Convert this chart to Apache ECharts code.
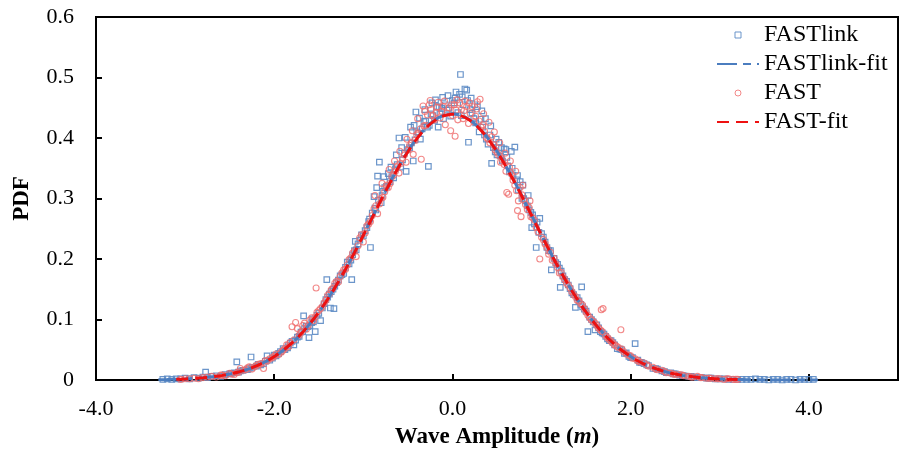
<!DOCTYPE html>
<html>
<head>
<meta charset="utf-8">
<script src="https://cdn.jsdelivr.net/npm/echarts@6/dist/echarts.min.js"></script>
<style>
  html, body { margin: 0; padding: 0; background: #ffffff; }
  #chart { width: 903px; height: 458px; }
</style>
</head>
<body>
<div id="chart"></div>
<script>
// Axis ticks
const xTickValues = [-4, -2, 0, 2, 4];
const yTickValues = [0, 0.1, 0.2, 0.3, 0.4, 0.5, 0.6];

// FASTlink: wave amplitude histogram PDF [amplitude (m), PDF]
const fastlinkPoints = [
  [-3.25,0.001],[-3.20,0.002],[-3.15,0.001],[-3.10,0.002],[-3.05,0.002],[-3.00,0.003],[-2.95,0.002],[-2.90,0.004],
  [-2.85,0.003],[-2.80,0.005],[-2.77,0.013],[-2.75,0.004],[-2.70,0.006],[-2.65,0.007],[-2.60,0.006],[-2.55,0.009],
  [-2.50,0.010],[-2.45,0.012],[-2.42,0.030],[-2.40,0.013],[-2.35,0.016],[-2.30,0.017],[-2.26,0.038],[-2.25,0.021],
  [-2.20,0.023],[-2.15,0.025],[-2.10,0.031],[-2.08,0.040],[-2.05,0.033],[-2.00,0.041],[-1.95,0.044],[-1.90,0.052],
  [-1.85,0.053],[-1.82,0.061],[-1.78,0.058],[-1.74,0.071],[-1.70,0.079],[-1.67,0.106],[-1.66,0.085],[-1.62,0.088],
  [-1.61,0.070],[-1.58,0.095],[-1.56,0.096],[-1.54,0.080],[-1.52,0.107],[-1.48,0.098],[-1.46,0.119],[-1.42,0.133],
  [-1.41,0.166],[-1.38,0.142],[-1.37,0.119],[-1.34,0.150],[-1.33,0.118],[-1.30,0.161],[-1.26,0.172],[-1.22,0.176],
  [-1.18,0.195],[-1.14,0.198],[-1.13,0.166],[-1.10,0.214],[-1.09,0.229],[-1.06,0.225],[-1.02,0.240],[-0.98,0.247],
  [-0.94,0.262],[-0.92,0.219],[-0.90,0.276],[-0.88,0.303],[-0.86,0.281],[-0.84,0.337],[-0.82,0.360],[-0.80,0.293],
  [-0.78,0.312],[-0.74,0.320],[-0.72,0.341],[-0.70,0.328],[-0.66,0.334],[-0.62,0.356],[-0.60,0.400],[-0.58,0.352],
  [-0.54,0.375],[-0.52,0.345],[-0.50,0.381],[-0.46,0.392],[-0.44,0.362],[-0.42,0.397],[-0.41,0.443],[-0.38,0.408],
  [-0.34,0.415],[-0.30,0.428],[-0.27,0.353],[-0.26,0.421],[-0.24,0.440],[-0.22,0.437],[-0.18,0.452],[-0.16,0.418],
  [-0.14,0.440],[-0.12,0.449],[-0.10,0.432],[-0.08,0.455],[-0.06,0.446],[-0.02,0.436],[0.02,0.458],[0.04,0.476],
  [0.06,0.442],[0.08,0.472],[0.09,0.505],[0.10,0.437],[0.14,0.481],[0.16,0.479],[0.18,0.393],[0.20,0.447],
  [0.22,0.441],[0.26,0.425],[0.28,0.452],[0.30,0.410],[0.34,0.418],[0.38,0.398],[0.42,0.405],[0.44,0.358],
  [0.46,0.384],[0.50,0.372],[0.52,0.393],[0.54,0.370],[0.58,0.382],[0.60,0.381],[0.62,0.354],[0.66,0.378],
  [0.70,0.385],[0.74,0.314],[0.76,0.328],[0.78,0.300],[0.82,0.296],[0.86,0.281],[0.89,0.252],[0.90,0.273],
  [0.94,0.219],[0.95,0.261],[0.98,0.267],[1.02,0.236],[1.06,0.219],[1.10,0.214],[1.11,0.182],[1.14,0.201],
  [1.18,0.191],[1.21,0.153],[1.22,0.180],[1.26,0.166],[1.30,0.157],[1.34,0.144],[1.38,0.120],[1.42,0.131],
  [1.45,0.154],[1.46,0.121],[1.50,0.114],[1.52,0.080],[1.54,0.104],[1.58,0.096],[1.60,0.083],[1.62,0.091],
  [1.66,0.080],[1.70,0.076],[1.74,0.068],[1.78,0.065],[1.82,0.058],[1.85,0.052],[1.90,0.050],[1.95,0.045],
  [2.00,0.037],[2.05,0.060],[2.08,0.033],[2.10,0.029],[2.15,0.027],[2.20,0.024],[2.25,0.019],[2.30,0.018],
  [2.35,0.015],[2.40,0.012],[2.45,0.012],[2.50,0.010],[2.55,0.008],[2.60,0.007],[2.65,0.006],[2.70,0.005],
  [2.75,0.004],[2.80,0.004],[2.85,0.003],[2.90,0.003],[2.95,0.002],[3.00,0.002],[3.05,0.002],[3.10,0.001],
  [3.15,0.001],[3.20,0.001],[3.25,0.001],[3.30,0.001],[3.35,0.001],[3.40,0.002],[3.45,0.001],[3.50,0.001],
  [3.55,0.000],[3.60,0.001],[3.65,0.001],[3.70,0.000],[3.75,0.001],[3.80,0.001],[3.85,0.000],[3.90,0.001],
  [3.95,0.001],[4.00,0.001],[4.05,0.001],
  [-2.48,0.011],[-2.38,0.015],[-2.28,0.019],[-2.18,0.026],[-2.12,0.027],[-2.02,0.036],[-1.98,0.040],[-1.93,0.047],
  [-1.88,0.050],[-1.84,0.057],[-1.80,0.064],[-1.76,0.066],[-1.72,0.072],[-1.68,0.080],[-1.64,0.089],[-1.60,0.090],
  [-1.57,0.101],[-1.50,0.110],[-1.44,0.126],[-1.40,0.137],[-1.36,0.146],[-1.32,0.155],[-1.28,0.165],[-1.24,0.174],
  [-1.20,0.186],[-1.16,0.192],[-1.12,0.207],[-1.08,0.215],[-1.04,0.231],[-1.00,0.238],[-0.96,0.252],[-0.93,0.266],
  [-0.87,0.284],[-0.83,0.297],[-0.79,0.305],[-0.76,0.318],[-0.68,0.338],[-0.64,0.349],[-0.56,0.364],[-0.48,0.384],
  [-0.40,0.410],[-0.36,0.398],[-0.32,0.427],[-0.28,0.418],[-0.20,0.429],[-0.15,0.451],[-0.04,0.449],[0.00,0.462],
  [0.12,0.455],[0.24,0.432],[0.32,0.431],[0.36,0.405],[0.40,0.390],[0.48,0.377],[0.56,0.362],[0.64,0.344],
  [0.68,0.338],[0.72,0.331],[0.80,0.300],[0.84,0.288],[0.88,0.277],[0.92,0.258],[0.97,0.244],[1.00,0.242],
  [1.04,0.228],[1.08,0.214],[1.16,0.194],[1.20,0.185],[1.24,0.172],[1.28,0.163],[1.32,0.151],[1.36,0.141],
  [1.40,0.136],[1.44,0.125],[1.48,0.117],[1.56,0.100],[1.64,0.086],[1.68,0.078],[1.72,0.072],[1.76,0.065],
  [1.80,0.062],[1.88,0.051],[1.93,0.044],[1.98,0.039],[2.02,0.037],[2.12,0.029],[2.18,0.025],[2.28,0.019],
  [2.38,0.014],[2.48,0.010],[2.58,0.007],[2.68,0.006],[2.78,0.004],[2.88,0.003],
  [-0.85,0.318],[-0.77,0.336],[-0.69,0.352],[-0.63,0.372],[-0.57,0.384],[-0.53,0.401],[-0.47,0.418],[-0.43,0.421],
  [-0.37,0.433],[-0.31,0.447],[-0.23,0.458],[-0.19,0.463],[-0.11,0.467],[-0.05,0.470],[0.03,0.466],[0.11,0.468],
  [0.17,0.462],[0.21,0.466],[0.25,0.455],[0.33,0.445],[0.37,0.432],[0.43,0.420],[0.49,0.398],[0.55,0.384],
  [0.61,0.368],[0.67,0.350],[0.73,0.338],[0.79,0.322],[0.85,0.305]
];

// FAST: wave amplitude histogram PDF [amplitude (m), PDF]
const fastPoints = [
  [-3.05,0.001],[-3.00,0.002],[-2.95,0.002],[-2.90,0.003],[-2.85,0.002],[-2.80,0.004],[-2.75,0.005],[-2.70,0.006],
  [-2.65,0.005],[-2.60,0.008],[-2.55,0.007],[-2.50,0.011],[-2.45,0.009],[-2.40,0.013],[-2.38,0.019],[-2.35,0.016],
  [-2.30,0.020],[-2.25,0.018],[-2.20,0.024],[-2.15,0.027],[-2.12,0.019],[-2.10,0.032],[-2.05,0.035],[-2.00,0.039],
  [-1.95,0.042],[-1.90,0.049],[-1.86,0.058],[-1.84,0.055],[-1.80,0.088],[-1.78,0.066],[-1.76,0.095],[-1.72,0.074],
  [-1.68,0.090],[-1.64,0.084],[-1.60,0.099],[-1.56,0.098],[-1.53,0.152],[-1.52,0.112],[-1.48,0.118],[-1.44,0.127],
  [-1.40,0.140],[-1.36,0.149],[-1.32,0.160],[-1.28,0.162],[-1.24,0.177],[-1.20,0.183],[-1.16,0.199],[-1.12,0.210],
  [-1.08,0.204],[-1.04,0.235],[-1.00,0.228],[-0.96,0.255],[-0.92,0.262],[-0.88,0.283],[-0.84,0.275],[-0.80,0.300],
  [-0.76,0.311],[-0.72,0.318],[-0.68,0.336],[-0.64,0.345],[-0.60,0.342],[-0.56,0.366],[-0.52,0.360],[-0.48,0.388],
  [-0.44,0.373],[-0.40,0.405],[-0.36,0.415],[-0.35,0.365],[-0.33,0.453],[-0.32,0.420],[-0.28,0.438],[-0.24,0.447],
  [-0.20,0.430],[-0.16,0.459],[-0.12,0.444],[-0.08,0.422],[-0.04,0.450],[0.00,0.437],[0.03,0.403],[0.04,0.446],
  [0.08,0.458],[0.12,0.432],[0.16,0.452],[0.20,0.440],[0.24,0.427],[0.28,0.460],[0.31,0.464],[0.32,0.418],
  [0.36,0.411],[0.40,0.398],[0.44,0.402],[0.48,0.380],[0.52,0.371],[0.56,0.364],[0.60,0.345],[0.61,0.310],
  [0.63,0.307],[0.64,0.352],[0.68,0.330],[0.72,0.313],[0.73,0.280],[0.74,0.296],[0.76,0.318],[0.77,0.270],
  [0.80,0.298],[0.84,0.282],[0.88,0.270],[0.92,0.264],[0.96,0.245],[0.98,0.200],[1.00,0.236],[1.04,0.225],
  [1.08,0.208],[1.12,0.198],[1.16,0.192],[1.20,0.177],[1.24,0.171],[1.28,0.160],[1.32,0.152],[1.36,0.141],
  [1.40,0.132],[1.44,0.126],[1.48,0.118],[1.52,0.107],[1.56,0.099],[1.60,0.094],[1.64,0.086],[1.67,0.116],
  [1.68,0.080],[1.69,0.118],[1.72,0.073],[1.76,0.067],[1.80,0.061],[1.84,0.056],[1.89,0.083],[1.90,0.051],
  [1.95,0.043],[2.00,0.040],[2.05,0.035],[2.10,0.030],[2.15,0.028],[2.20,0.023],[2.25,0.021],[2.30,0.017],
  [2.35,0.016],[2.40,0.012],[2.45,0.011],[2.50,0.009],[2.55,0.009],[2.60,0.007],[2.65,0.006],[2.70,0.005],
  [2.75,0.006],[2.80,0.004],[2.85,0.003],[2.90,0.003],[2.95,0.002],[3.00,0.002],[3.05,0.001],[3.10,0.002],
  [3.15,0.001],[3.20,0.001],
  [-2.58,0.008],[-2.48,0.010],[-2.42,0.012],[-2.32,0.017],[-2.28,0.022],[-2.22,0.022],[-2.18,0.026],[-2.08,0.031],
  [-2.02,0.037],[-1.98,0.043],[-1.92,0.046],[-1.88,0.052],[-1.82,0.062],[-1.74,0.085],[-1.70,0.079],[-1.66,0.094],
  [-1.62,0.090],[-1.58,0.103],[-1.54,0.104],[-1.50,0.115],[-1.46,0.121],[-1.42,0.132],[-1.38,0.143],[-1.34,0.152],
  [-1.30,0.163],[-1.26,0.171],[-1.22,0.182],[-1.18,0.190],[-1.14,0.202],[-1.10,0.213],[-1.06,0.222],[-1.02,0.240],
  [-0.98,0.243],[-0.94,0.258],[-0.90,0.272],[-0.86,0.288],[-0.82,0.291],[-0.78,0.302],[-0.74,0.322],[-0.70,0.325],
  [-0.66,0.339],[-0.62,0.352],[-0.58,0.358],[-0.54,0.372],[-0.50,0.380],[-0.46,0.392],[-0.42,0.396],[-0.38,0.408],
  [-0.30,0.421],[-0.26,0.455],[-0.22,0.437],[-0.18,0.442],[-0.14,0.433],[-0.10,0.452],[-0.06,0.441],[-0.02,0.412],
  [0.02,0.455],[0.06,0.430],[0.10,0.447],[0.14,0.461],[0.18,0.424],[0.22,0.452],[0.26,0.436],[0.30,0.428],
  [0.34,0.422],[0.38,0.401],[0.42,0.392],[0.46,0.389],[0.50,0.376],[0.54,0.360],[0.58,0.356],[0.66,0.341],
  [0.70,0.322],[0.78,0.306],[0.82,0.290],[0.86,0.285],[0.90,0.268],[0.94,0.252],[1.02,0.232],[1.06,0.219],
  [1.10,0.211],[1.14,0.201],[1.18,0.186],[1.22,0.178],[1.26,0.166],[1.30,0.157],[1.34,0.146],[1.38,0.138],
  [1.42,0.130],[1.46,0.124],[1.50,0.112],[1.54,0.103],[1.58,0.097],[1.62,0.090],[1.66,0.083],[1.74,0.070],
  [1.78,0.064],[1.82,0.058],[1.86,0.054],[1.92,0.047],[1.98,0.041],[2.02,0.036],[2.08,0.032],[2.18,0.025],
  [2.28,0.018],[2.38,0.014],[2.48,0.010],[2.58,0.008],[2.68,0.005],[2.78,0.004],[2.88,0.003],[2.98,0.002],
  [3.08,0.002],[3.18,0.001],
  [-0.87,0.305],[-0.79,0.325],[-0.71,0.348],[-0.65,0.362],[-0.59,0.378],[-0.51,0.398],[-0.45,0.412],[-0.39,0.432],
  [-0.31,0.444],[-0.25,0.462],[-0.17,0.451],[-0.09,0.461],[-0.01,0.455],[0.05,0.463],[0.13,0.445],[0.19,0.458],
  [0.27,0.448],[0.35,0.440],[0.41,0.426],[0.47,0.410],[0.53,0.392],[0.59,0.375],[0.65,0.362],[0.71,0.345],
  [0.79,0.322],[0.87,0.296]
];

// Fitted normal curves, sampled every 0.1 m
const fastlinkFitX = [
  -3.3,-3.2,-3.1,-3.0,-2.9,-2.8,-2.7,-2.6,-2.5,-2.4,-2.3,-2.2,-2.1,-2.0,-1.9,-1.8,-1.7,-1.6,-1.5,-1.4,
  -1.3,-1.2,-1.1,-1.0,-0.9,-0.8,-0.7,-0.6,-0.5,-0.4,-0.3,-0.2,-0.1,0.0,0.1,0.2,0.3,0.4,0.5,0.6,
  0.7,0.8,0.9,1.0,1.1,1.2,1.3,1.4,1.5,1.6,1.7,1.8,1.9,2.0,2.1,2.2,2.3,2.4,2.5,2.6,
  2.7,2.8,2.9,3.0,3.1,3.2,3.3,3.4,3.5,3.6,3.7,3.8,3.9,4.0,4.1
];
const fastlinkFitY = [
  0.0006,0.0009,0.0013,0.0018,0.0026,0.0037,0.0052,0.0072,0.0098,0.0133,0.0176,0.0232,0.0301,0.0387,0.0490,0.0614,0.0759,0.0928,0.1121,0.1337,
  0.1575,0.1833,0.2108,0.2396,0.2689,0.2982,0.3267,0.3535,0.3780,0.3992,0.4166,0.4294,0.4373,0.4400,0.4373,0.4294,0.4166,0.3992,0.3780,0.3535,
  0.3267,0.2982,0.2689,0.2396,0.2108,0.1833,0.1575,0.1337,0.1121,0.0928,0.0759,0.0614,0.0490,0.0387,0.0301,0.0232,0.0176,0.0133,0.0098,0.0072,
  0.0052,0.0037,0.0026,0.0018,0.0013,0.0009,0.0006,0.0004,0.0002,0.0002,0.0001,0.0001,0.0000,0.0000,0.0000
];
const fastFitX = [
  -3.1,-3.0,-2.9,-2.8,-2.7,-2.6,-2.5,-2.4,-2.3,-2.2,-2.1,-2.0,-1.9,-1.8,-1.7,-1.6,-1.5,-1.4,-1.3,-1.2,
  -1.1,-1.0,-0.9,-0.8,-0.7,-0.6,-0.5,-0.4,-0.3,-0.2,-0.1,0.0,0.1,0.2,0.3,0.4,0.5,0.6,0.7,0.8,
  0.9,1.0,1.1,1.2,1.3,1.4,1.5,1.6,1.7,1.8,1.9,2.0,2.1,2.2,2.3,2.4,2.5,2.6,2.7,2.8,
  2.9,3.0,3.1,3.2
];
const fastFitY = [
  0.0013,0.0018,0.0026,0.0037,0.0052,0.0072,0.0098,0.0133,0.0177,0.0233,0.0302,0.0388,0.0491,0.0615,0.0760,0.0929,0.1122,0.1337,0.1574,0.1831,
  0.2105,0.2392,0.2684,0.2977,0.3261,0.3529,0.3773,0.3985,0.4159,0.4287,0.4366,0.4393,0.4366,0.4287,0.4159,0.3985,0.3773,0.3529,0.3261,0.2977,
  0.2684,0.2392,0.2105,0.1831,0.1574,0.1337,0.1122,0.0929,0.0760,0.0615,0.0491,0.0388,0.0302,0.0233,0.0177,0.0133,0.0098,0.0072,0.0052,0.0037,
  0.0026,0.0018,0.0013,0.0009
];

const BLUE_MARK = '#5b89c4';
const BLUE_LINE = '#4b7dbf';
const RED_MARK = '#ef6b6b';
const RED_LINE = '#ee1111';
const SERIF = '"Liberation Serif", "Times New Roman", serif';
const NO_FILL = 'rgba(0,0,0,0)';

const pairs = (xs, ys) => xs.map((x, i) => [x, ys[i]]);

const chart = echarts.init(document.getElementById('chart'), null, { renderer: 'canvas' });

chart.setOption({
  animation: false,
  backgroundColor: '#ffffff',
  grid: {
    left: 96, right: 5, top: 17, bottom: 78,
    show: true, borderColor: '#000', borderWidth: 2, backgroundColor: 'transparent'
  },
  legend: {
    orient: 'vertical',
    left: 716,
    top: 23,
    padding: 0,
    itemWidth: 42,
    itemHeight: 6,
    itemGap: 5,
    textStyle: { fontFamily: SERIF, fontSize: 24, color: '#000' },
    data: [
      { name: 'FASTlink', icon: 'path://M0,0H10V10H0Z',
        itemStyle: { color: NO_FILL, borderColor: BLUE_MARK, borderWidth: 1 } },
      { name: 'FASTlink-fit',
        itemStyle: { color: NO_FILL, borderColor: NO_FILL, borderWidth: 0 } },
      { name: 'FAST', icon: 'circle',
        itemStyle: { color: NO_FILL, borderColor: RED_MARK, borderWidth: 1 } },
      { name: 'FAST-fit',
        itemStyle: { color: NO_FILL, borderColor: NO_FILL, borderWidth: 0 } }
    ]
  },
  xAxis: {
    type: 'value',
    min: xTickValues[0],
    max: 5,
    interval: 2,
    name: 'Wave Amplitude ({it|m})',
    nameLocation: 'middle',
    nameGap: 46,
    nameTextStyle: {
      fontFamily: SERIF, fontSize: 23, fontWeight: 'bold', color: '#000',
      rich: { it: { fontFamily: SERIF, fontSize: 23, fontWeight: 'bold', fontStyle: 'italic', color: '#000' } }
    },
    axisLine: { onZero: false, lineStyle: { color: '#000', width: 2 } },
    axisTick: { inside: true, length: 6, lineStyle: { color: '#000', width: 2 } },
    axisLabel: {
      margin: 18, fontFamily: SERIF, fontSize: 22, color: '#000',
      formatter: v => (xTickValues.indexOf(v) >= 0 ? v.toFixed(1) : '')
    },
    splitLine: { show: false }
  },
  yAxis: {
    type: 'value',
    min: yTickValues[0],
    max: yTickValues[yTickValues.length - 1],
    interval: 0.1,
    name: 'PDF',
    nameLocation: 'middle',
    nameGap: 62,
    nameTextStyle: { fontFamily: SERIF, fontSize: 23, fontWeight: 'bold', color: '#000' },
    axisLine: { show: true, onZero: false, lineStyle: { color: '#000', width: 2 } },
    axisTick: { show: true, inside: true, length: 6, lineStyle: { color: '#000', width: 2 } },
    axisLabel: {
      margin: 22, fontFamily: SERIF, fontSize: 22, color: '#000',
      formatter: v => (v === 0 ? '0' : v.toFixed(1))
    },
    splitLine: { show: false }
  },
  series: [
    {
      name: 'FASTlink',
      type: 'scatter',
      data: fastlinkPoints,
      symbol: 'rect',
      symbolSize: 5.5,
      z: 2,
      itemStyle: { color: NO_FILL, borderColor: BLUE_MARK, borderWidth: 1.2, opacity: 0.9 }
    },
    {
      name: 'FASTlink-fit',
      type: 'line',
      data: pairs(fastlinkFitX, fastlinkFitY),
      symbol: 'none',
      smooth: true,
      z: 4,
      itemStyle: { color: BLUE_LINE },
      lineStyle: { color: BLUE_LINE, width: 3, type: [20, 6, 8, 6] }
    },
    {
      name: 'FAST',
      type: 'scatter',
      data: fastPoints,
      symbol: 'circle',
      symbolSize: 6,
      z: 3,
      itemStyle: { color: NO_FILL, borderColor: RED_MARK, borderWidth: 1.1, opacity: 0.8 }
    },
    {
      name: 'FAST-fit',
      type: 'line',
      data: pairs(fastFitX, fastFitY),
      symbol: 'none',
      smooth: true,
      z: 5,
      itemStyle: { color: RED_LINE },
      lineStyle: { color: RED_LINE, width: 3, type: [12, 7] }
    }
  ]
});
</script>
</body>
</html>
